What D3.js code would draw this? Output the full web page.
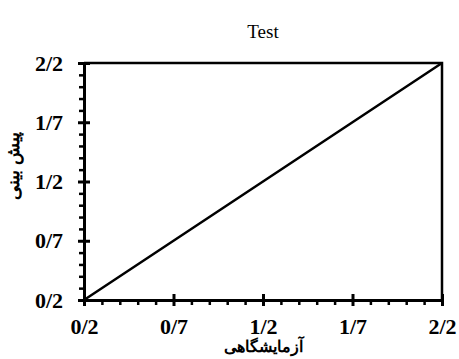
<!DOCTYPE html>
<html>
<head>
<meta charset="utf-8">
<script src="https://cdn.jsdelivr.net/npm/d3@7"></script>
<style>
  body { margin: 0; background: #fff; }
  svg { display: block; }
</style>
</head>
<body>
<svg id="chart"></svg>
<script>
const width = 459, height = 359,
    margin = { top: 63, right: 17, bottom: 59, left: 84 };

// data
const title = "Test",
    xLabel = "آزمایشگاهی",
    yLabel = "پیش بینی";
const measured = [0.2, 0.7, 1.2, 1.7, 2.2];   // آزمایشگاهی
const predicted = [0.2, 0.7, 1.2, 1.7, 2.2];  // پیش بینی
const majorTicks = [0.2, 0.7, 1.2, 1.7, 2.2];
const minorTicks = [0.3, 0.4, 0.5, 0.6, 0.8, 0.9, 1.0, 1.1, 1.3, 1.4, 1.5, 1.6, 1.8, 1.9, 2.0, 2.1];

const serif = "'Liberation Serif', 'DejaVu Serif', serif";
// tick text uses "/" as decimal mark
const fmt = v => d3.format(".1f")(v).replace(".", "/");

const svg = d3.select("#chart")
    .attr("width", width)
    .attr("height", height);

const x = d3.scaleLinear().domain([0.2, 2.2]).range([margin.left, width - margin.right]);
const y = d3.scaleLinear().domain([0.2, 2.2]).range([height - margin.bottom, margin.top]);

// frame (top + right)
svg.append("path")
    .attr("d", `M${x(0.2)},${y(2.2)}H${x(2.2)}V${y(0.2)}`)
    .attr("fill", "none")
    .attr("stroke", "#000")
    .attr("stroke-width", 2.5);

// minor ticks
svg.append("g")
    .attr("transform", `translate(0,${y(0.2)})`)
    .call(d3.axisBottom(x).tickValues(minorTicks).tickSize(5).tickFormat(""))
    .call(g => g.select(".domain").remove())
    .selectAll("line").attr("stroke-width", 2.5);

svg.append("g")
    .attr("transform", `translate(${x(0.2)},0)`)
    .call(d3.axisLeft(y).tickValues(minorTicks).tickSize(5).tickFormat(""))
    .call(g => g.select(".domain").remove())
    .selectAll("line").attr("stroke-width", 2.5);

// major axes
const xAxis = svg.append("g")
    .attr("transform", `translate(0,${y(0.2)})`)
    .call(d3.axisBottom(x).tickValues(majorTicks).tickSizeInner(6).tickSizeOuter(0).tickPadding(12).tickFormat(fmt));
xAxis.selectAll(".tick line").attr("y1", -6);

const yAxis = svg.append("g")
    .attr("transform", `translate(${x(0.2)},0)`)
    .call(d3.axisLeft(y).tickValues(majorTicks).tickSizeInner(6).tickSizeOuter(0).tickPadding(15).tickFormat(fmt));
yAxis.selectAll(".tick line").attr("x1", 6);

[xAxis, yAxis].forEach(g => {
    g.select(".domain").attr("stroke-width", 3);
    g.selectAll(".tick line").attr("stroke-width", 3);
    g.selectAll("text")
        .style("font-family", serif)
        .style("font-weight", "bold")
        .style("font-size", "22px")
        .attr("fill", "#000");
});

// data line
const line = d3.line()
    .x((d, i) => x(measured[i]))
    .y(d => y(d));

svg.append("path")
    .datum(predicted)
    .attr("d", line)
    .attr("fill", "none")
    .attr("stroke", "#000")
    .attr("stroke-width", 2.5);

// title
svg.append("text")
    .attr("x", (x(0.2) + x(2.2)) / 2)
    .attr("y", 38)
    .attr("text-anchor", "middle")
    .style("font-family", serif)
    .style("font-size", "19px")
    .text(title);

// axis labels
svg.append("text")
    .attr("x", (x(0.2) + x(2.2)) / 2)
    .attr("y", 352)
    .attr("text-anchor", "middle")
    .attr("direction", "rtl")
    .style("font-family", serif)
    .style("font-weight", "bold")
    .style("font-size", "16px")
    .text(xLabel);

svg.append("text")
    .attr("transform", "translate(19,166) rotate(-90)")
    .attr("text-anchor", "middle")
    .attr("direction", "rtl")
    .style("font-family", serif)
    .style("font-weight", "bold")
    .style("font-size", "18px")
    .text(yLabel);
</script>
</body>
</html>
